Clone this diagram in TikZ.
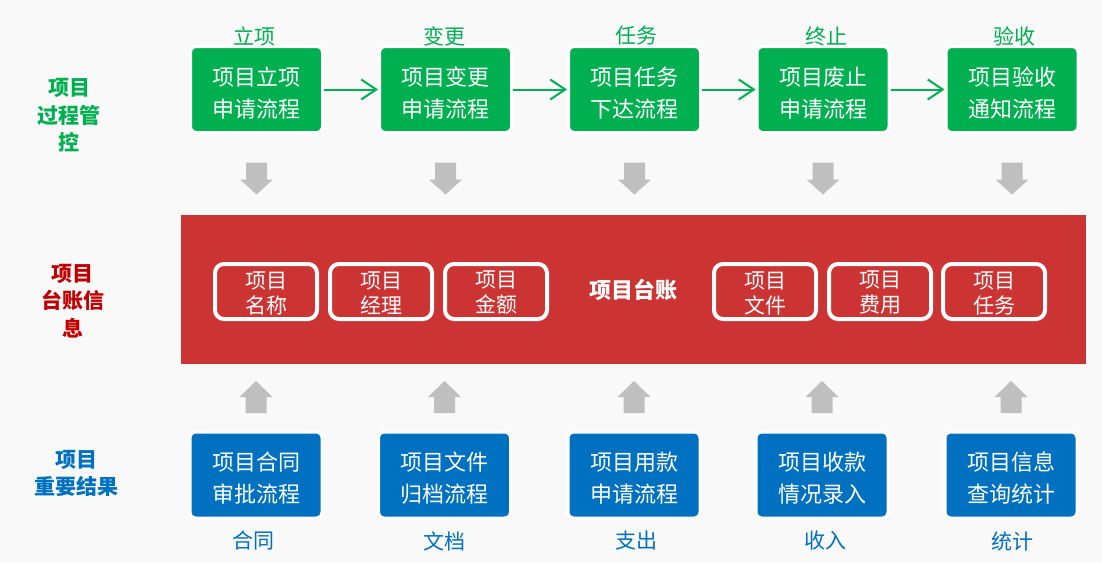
\documentclass[tikz,border=0pt]{standalone}
\usepackage{fontspec}
\setmainfont{Noto Sans CJK SC}
\usetikzlibrary{arrows.meta,calc}
\definecolor{bgc}{HTML}{F9F9F9}
\definecolor{ggreen}{HTML}{00B050}
\definecolor{bandred}{HTML}{CC3333}
\definecolor{dred}{HTML}{C00000}
\definecolor{bblue}{HTML}{0070C0}
\definecolor{agray}{HTML}{BFBFBF}
\tikzset{
  procbox/.style={rounded corners=6pt, draw=white, line width=3pt, minimum width=132pt, minimum height=86pt, inner sep=0pt},
  gbox/.style={procbox, fill=ggreen},
  bbox/.style={procbox, fill=bblue},
  boxtext/.style={text=white, align=center, inner sep=0pt, font=\fontsize{22}{32.5}\selectfont},
  fieldbox/.style={rounded corners=9pt, draw=white, line width=4pt, minimum width=102pt, minimum height=55pt, inner sep=0pt},
  fieldtext/.style={text=white, align=center, inner sep=0pt, font=\fontsize{21}{25}\selectfont},
  toplabel/.style={text=ggreen, font=\fontsize{21}{25}\selectfont, inner sep=0pt},
  botlabel/.style={text=bblue, font=\fontsize{21}{25}\selectfont, inner sep=0pt},
  sidelabel/.style={align=center, font=\bfseries\fontsize{21}{27.5}\selectfont, inner sep=0pt},
  garrow/.style={draw=ggreen, line width=2pt, -{Straight Barb[length=15pt,width=20pt,line width=2pt]}},
  blockarrow/.style={fill=agray}
}
\begin{document}
\begin{tikzpicture}[x=1pt,y=-1pt]
\useasboundingbox (0,0) rectangle (1102,562);
\fill[bgc] (0,0) rectangle (1102,562);

% side labels
\node[sidelabel, text=ggreen] (lg) at (69,115.5) {项目\\过程管\\控};
\node[sidelabel, text=dred] (lr) at (72.5,301) {项目\\台账信\\息};
\node[sidelabel, text=bblue] (lb) at (76.5,473.5) {项目\\重要结果};

% red band
\node[fill=bandred, minimum width=905pt, minimum height=149pt, inner sep=0pt] (band) at (633.5,289.5) {};
\node[text=white, font=\bfseries\fontsize{22}{26}\selectfont, inner sep=0pt] (ledger) at (633,289.5) {项目台账};

\foreach \n/\x/\t in {f1/266/名称, f2/381/经理, f3/496/金额, f4/765/文件, f5/880/费用, f6/994/任务}{
  \node[fieldbox] (\n) at (\x,291.5) {};
  \node[fieldtext] (\n t) at ($(\n.center)+(0,1.5)$) {项目\\\t};
}

% green process boxes
\foreach \n/\x/\a/\b in {g1/256.5/项目立项/申请流程, g2/445.5/项目变更/申请流程, g3/634.5/项目任务/下达流程, g4/823/项目废止/申请流程, g5/1012/项目验收/通知流程}{
  \node[gbox] (\n) at (\x,89.5) {};
  \node[boxtext] (\n t) at ($(\n.center)+(0,3.5)$) {\a\\\b};
}

\node[toplabel] (t1) at (254,36) {立项};
\node[toplabel] (t2) at (444,36) {变更};
\node[toplabel] (t3) at (636,36) {任务};
\node[toplabel] (t4) at (826,36) {终止};
\node[toplabel] (t5) at (1014,36) {验收};

\draw[garrow] (g1.east) -- (g2.west);
\draw[garrow] (g2.east) -- (g3.west);
\draw[garrow] (g3.east) -- (g4.west);
\draw[garrow] (g4.east) -- (g5.west);

% blue result boxes
\foreach \n/\x/\a/\b in {b1/256/项目合同/审批流程, b2/444.5/项目文件/归档流程, b3/634/项目用款/申请流程, b4/822/项目收款/情况录入, b5/1011/项目信息/查询统计}{
  \node[bbox] (\n) at (\x,475) {};
  \node[boxtext] (\n t) at ($(\n.center)+(0,3)$) {\a\\\b};
}

\node[botlabel] (u1) at (253,541) {合同};
\node[botlabel] (u2) at (444,541) {文档};
\node[botlabel] (u3) at (636,541) {支出};
\node[botlabel] (u4) at (825,541) {收入};
\node[botlabel] (u5) at (1012,541) {统计};

% gray block arrows down
\foreach \n in {g1,g2,g3,g4,g5}{
  \fill[blockarrow] ($(\n.south)+(-10.5,28.5)$) -- ($(\n.south)+(10.5,28.5)$) -- ($(\n.south)+(10.5,45.5)$)
    -- ($(\n.south)+(16.5,45.5)$) -- ($(\n.south)+(0,60.5)$) -- ($(\n.south)+(-16.5,45.5)$)
    -- ($(\n.south)+(-10.5,45.5)$) -- cycle;
}
% gray block arrows up
\foreach \n in {b1,b2,b3,b4,b5}{
  \fill[blockarrow] ($(\n.north)+(-10.5,-17.5)$) -- ($(\n.north)+(10.5,-17.5)$) -- ($(\n.north)+(10.5,-33.5)$)
    -- ($(\n.north)+(16.5,-33.5)$) -- ($(\n.north)+(0,-49.5)$) -- ($(\n.north)+(-16.5,-33.5)$)
    -- ($(\n.north)+(-10.5,-33.5)$) -- cycle;
}
\end{tikzpicture}
\end{document}
